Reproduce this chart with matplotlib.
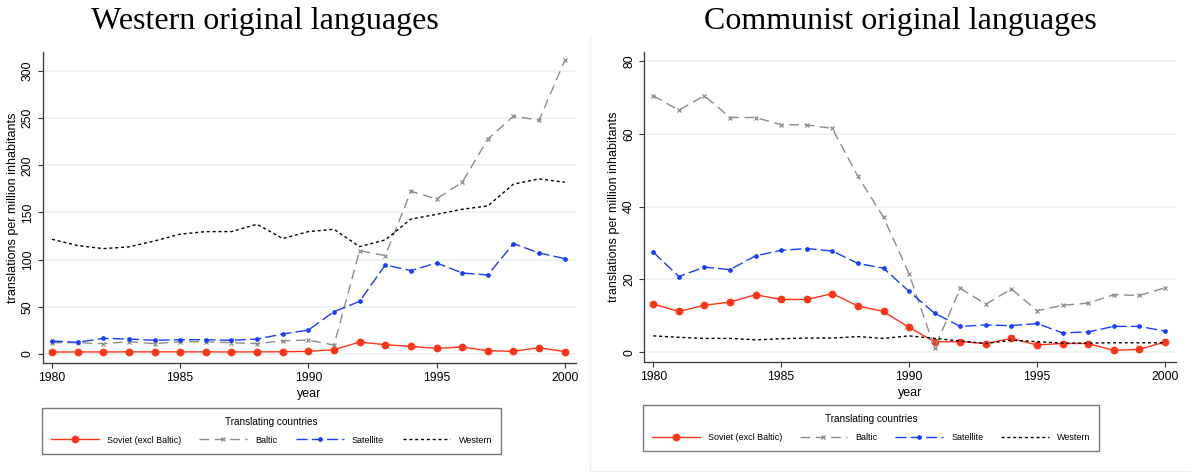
import numpy as np
import matplotlib
matplotlib.use('Agg')
import matplotlib.pyplot as plt
from matplotlib.lines import Line2D

plt.rcParams['font.family'] = ['Liberation Sans', 'DejaVu Sans']

# Data
years = list(range(1980, 2001))

# Western original languages (translations per million inhabitants)
west_soviet = [2.1, 2.2, 2.2, 2.3, 2.3, 2.3, 2.3, 2.2, 2.3, 2.4, 2.8, 4.6, 12.7, 9.9, 8.1, 6.0, 7.4, 3.5, 2.8, 6.7, 2.5]
west_baltic = [12, 12, 11, 13, 11, 13, 13, 12, 11, 14, 14.8, 9.5, 109.6, 104.3, 172.5, 164.4, 182, 227.6, 252, 247.8, 311]
west_satellite = [13.8, 12.4, 16.6, 15.9, 14.5, 15.2, 15.2, 14.5, 15.9, 21.2, 25.4, 44.9, 55.8, 94.4, 88.4, 96.5, 85.9, 83.8, 117, 107.1, 101.1]
west_western = [121.6, 114.9, 111.7, 113.5, 119.8, 127, 129.7, 129.7, 137.5, 122.3, 129.7, 132.2, 113.8, 120.9, 143, 148, 153.4, 156.9, 180, 185.6, 182]

# Communist original languages
comm_soviet = [13.3, 11.2, 12.9, 13.8, 15.8, 14.5, 14.5, 16.1, 12.7, 11.2, 6.8, 2.9, 2.9, 2.4, 3.8, 2.0, 2.4, 2.4, 0.5, 0.8, 2.8]
comm_baltic = [70.5, 66.5, 70.5, 64.5, 64.5, 62.5, 62.5, 61.5, 48.3, 37.1, 21.5, 1.1, 17.6, 13.2, 17.4, 11.4, 12.9, 13.5, 15.8, 15.6, 17.7]
comm_satellite = [27.5, 20.8, 23.4, 22.7, 26.5, 28.0, 28.5, 27.8, 24.4, 23.1, 16.7, 10.7, 7.1, 7.5, 7.3, 7.9, 5.3, 5.6, 7.1, 7.1, 5.8]
comm_western = [4.5, 4.1, 3.8, 3.8, 3.4, 3.7, 3.9, 3.9, 4.3, 3.8, 4.5, 3.8, 3.1, 2.4, 3.3, 2.9, 2.5, 2.5, 2.6, 2.6, 2.6]

series_labels = ['Soviet (excl Baltic)', 'Baltic', 'Satellite', 'Western']

# line styles for each series
styles = [
    dict(color='#ff3418', lw=1.0, ls='-', marker='o', ms=4.6),
    dict(color='#8c8c8c', lw=1.0, ls=(0, (7, 4)), marker='x', ms=3.2, mew=0.9),
    dict(color='#1a3cff', lw=1.0, ls=(0, (8, 3)), marker='o', ms=2.4),
    dict(color='black', lw=1.0, ls=(0, (2.2, 2.0)), marker=None),
]

W, H = 1191, 472
fig = plt.figure(figsize=(W / 100, H / 100), dpi=100)


def px_axes(x0, x1, y0, y1):
    # axes rectangle from pixel edges
    return fig.add_axes([x0 / W, 1 - y1 / H, (x1 - x0) / W, (y1 - y0) / H])


def draw_panel(ax, data, ylim, yticks):
    for vals, st in zip(data, styles):
        ax.plot(years, vals, **st)
    ax.set_xlim(1979.65, 2000.42)
    ax.set_ylim(*ylim)
    ax.set_xticks(range(1980, 2001, 5))
    ax.set_yticks(yticks)
    ax.set_yticklabels([str(t) for t in yticks], rotation=90, va='center')
    ax.grid(axis='y', color='#eaf2f2', lw=1.2)
    ax.set_axisbelow(True)
    for s in ['top', 'right']:
        ax.spines[s].set_visible(False)
    for s in ['left', 'bottom']:
        ax.spines[s].set_color('#333333')
        ax.spines[s].set_linewidth(0.9)
    ax.tick_params(axis='both', length=3.6, width=0.8, color='#333333', labelsize=8.8, pad=3)
    ax.set_xlabel('year', fontsize=9, labelpad=3)
    ax.set_ylabel('translations per million inhabitants', fontsize=9, labelpad=2)


ax1 = px_axes(43, 575.5, 52, 363)
draw_panel(ax1, [west_soviet, west_baltic, west_satellite, west_western], (-9.5, 320), range(0, 301, 50))

ax2 = px_axes(644.3, 1175.7, 52, 361.7)
draw_panel(ax2, [comm_soviet, comm_baltic, comm_satellite, comm_western], (-2.6, 82.5), range(0, 81, 20))

# titles
fig.text(265 / W, 1 - 29 / H, 'Western original languages', family='Liberation Serif',
         fontsize=23, ha='center', va='baseline')
fig.text(900 / W, 1 - 29 / H, 'Communist original languages', family='Liberation Serif',
         fontsize=23, ha='center', va='baseline')

# legends under each panel
handles = [Line2D([], [], **st) for st in styles]


def add_legend(x0, x1, ytop):
    leg = fig.legend(handles, series_labels, loc='upper left', ncol=4, mode='expand',
                     bbox_to_anchor=(x0 / W, 1 - ytop / H, (x1 - x0) / W, 0),
                     bbox_transform=fig.transFigure, title='Translating countries',
                     fontsize=6.5, title_fontsize=7.2, handlelength=5.3, handletextpad=0.9,
                     borderpad=1.0, labelspacing=1.0, fancybox=False, frameon=True,
                     borderaxespad=0)
    leg.get_frame().set_edgecolor('#555555')
    leg.get_frame().set_linewidth(1.0)
    return leg


add_legend(41.7, 501, 407.5)
add_legend(642.7, 1099.3, 405.3)

# faint panel border like the source image
fig.add_artist(Line2D([590 / W, 590 / W], [1 - 35 / H, 1 - 471 / H], color='#eeeeee', lw=0.8))
fig.add_artist(Line2D([590 / W, 1], [1 - 471 / H, 1 - 471 / H], color='#eeeeee', lw=0.8))

fig.savefig('out.png', dpi=100)
